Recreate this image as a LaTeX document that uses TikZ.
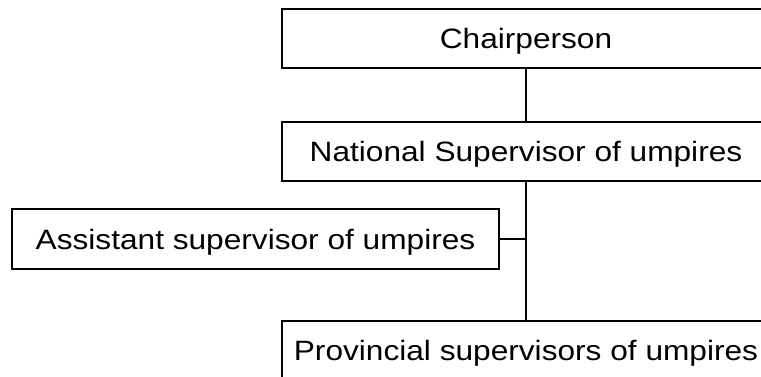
\documentclass[tikz,border=0pt]{standalone}
\usepackage{fontspec}
\setmainfont[FakeStretch=1.13]{Liberation Sans}
\begin{document}
\begin{tikzpicture}[x=1pt,y=-1pt,
  orgbox/.style={draw=black, line width=2pt, fill=white, rectangle, inner sep=0pt,
    minimum height=59pt, font=\fontsize{28}{32}\selectfont,
    text height=20pt, text depth=0pt},
  link/.style={draw=black, line width=2pt}]
\useasboundingbox (0,0) rectangle (761,377);
\fill[white] (0,0) rectangle (761,377);
\clip (0,0) rectangle (761,377);
\node[orgbox, minimum width=488pt] (chair) at (526,38.5) {Chairperson};
\node[orgbox, minimum width=488pt] (nat) at (526,151.5) {National Supervisor of umpires};
\node[orgbox, minimum width=487pt, minimum height=60pt] (asst) at (255.5,239) {Assistant supervisor of umpires};
\node[orgbox, minimum width=488pt] (prov) at (526,350.5) {Provincial supervisors of umpires};
\coordinate (j) at (nat.south |- asst.east);
\draw[link] (chair.south) -- (nat.north);
\draw[link] (nat.south) -- (prov.north);
\draw[link] (asst.east) -- (j);
\end{tikzpicture}
\end{document}
